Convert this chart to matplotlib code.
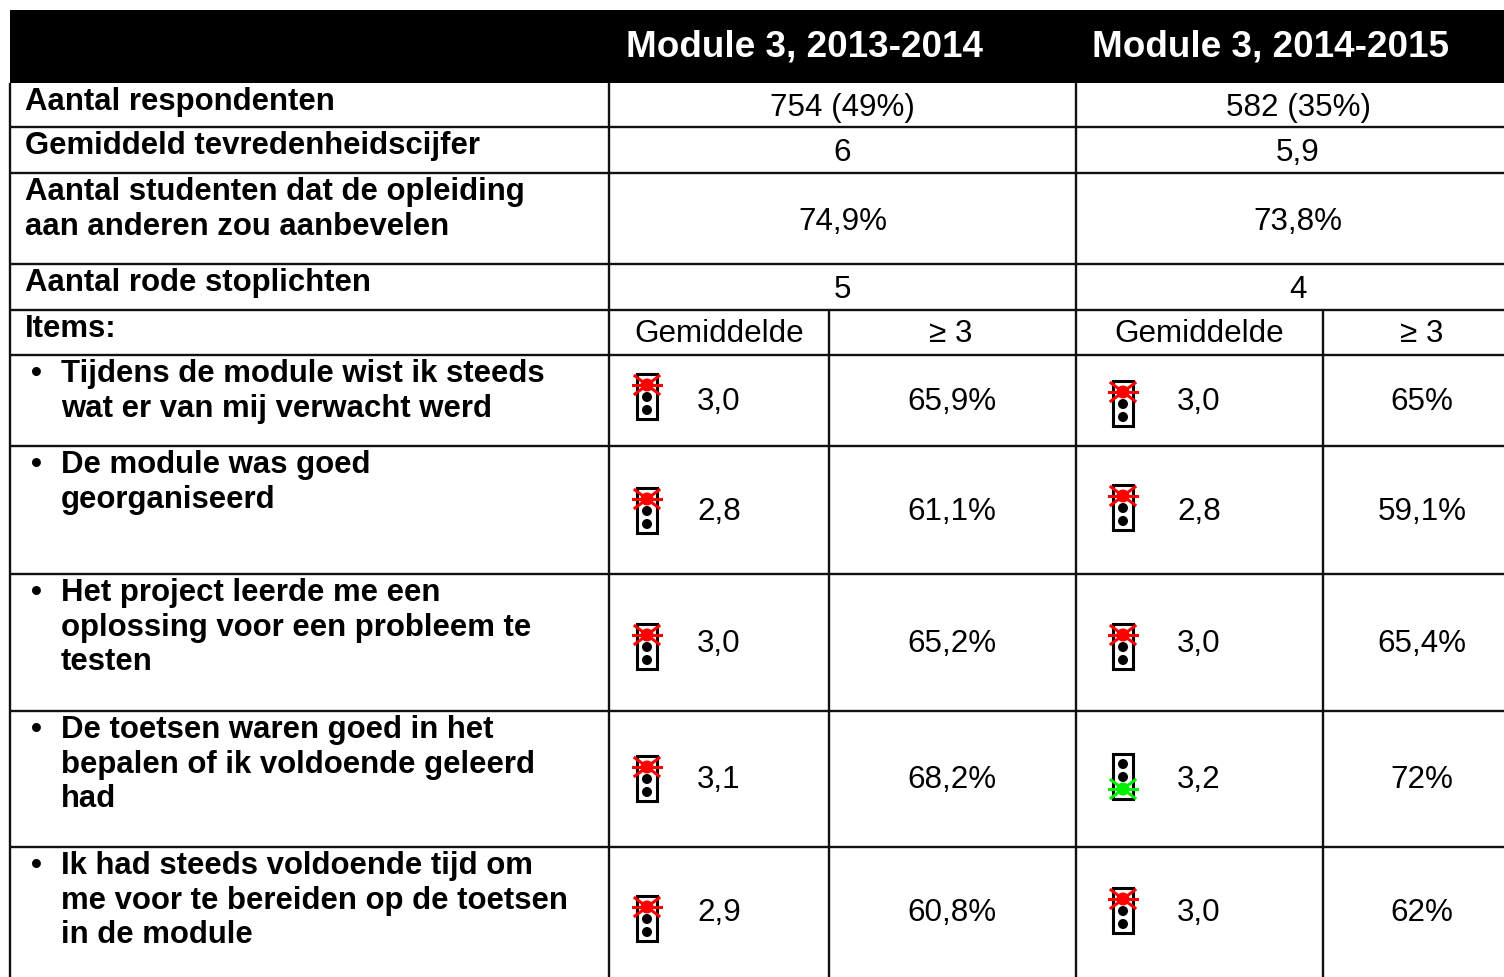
import matplotlib
matplotlib.use('Agg')
from matplotlib import pyplot as plt
from matplotlib.patches import Rectangle, Circle

plt.rcParams['font.family'] = ['Liberation Sans', 'DejaVu Sans']

# table content
headers = ['Module 3, 2013-2014', 'Module 3, 2014-2015']
top_labels = ['Aantal respondenten', 'Gemiddeld tevredenheidscijfer',
              'Aantal studenten dat de opleiding\naan anderen zou aanbevelen',
              'Aantal rode stoplichten']
top_2014 = ['754 (49%)', '6', '74,9%', '5']
top_2015 = ['582 (35%)', '5,9', '73,8%', '4']
sub_headers = ['Gemiddelde', '≥ 3', 'Gemiddelde', '≥ 3']
items = ['Tijdens de module wist ik steeds\nwat er van mij verwacht werd',
         'De module was goed\ngeorganiseerd',
         'Het project leerde me een\noplossing voor een probleem te\ntesten',
         'De toetsen waren goed in het\nbepalen of ik voldoende geleerd\nhad',
         'Ik had steeds voldoende tijd om\nme voor te bereiden op de toetsen\nin de module']
mean_2014 = ['3,0', '2,8', '3,0', '3,1', '2,9']
pct_2014 = ['65,9%', '61,1%', '65,2%', '68,2%', '60,8%']
light_2014 = ['red', 'red', 'red', 'red', 'red']
mean_2015 = ['3,0', '2,8', '3,0', '3,2', '3,0']
pct_2015 = ['65%', '59,1%', '65,4%', '72%', '62%']
light_2015 = ['red', 'red', 'red', 'green', 'red']

# layout in pixels
W, H = 1504, 978
row_y = [84, 128, 174, 265, 311, 356, 447, 575, 712, 848, 978]
col_x = [10, 609, 829, 1076, 1323, 1504]
light_top_2014 = [375, 489, 625, 757, 897]
light_top_2015 = [382, 486, 625, 755, 889]
BODY = 22.6
LABEL = 22.4
HEAD = 26.6

fig = plt.figure(figsize=(W / 100, H / 100), dpi=100)
ax = fig.add_axes([0, 0, 1, 1])
ax.set_xlim(0, W)
ax.set_ylim(H, 0)
ax.axis('off')


def hline(y, x0=col_x[0], x1=W):
    ax.plot([x0, x1], [y, y], color='#111111', lw=1.7, solid_capstyle='butt')


def vline(x, y0, y1=H):
    ax.plot([x, x], [y0, y1], color='#111111', lw=1.7, solid_capstyle='butt')


def body(x, y, s):
    ax.text(x, y, s, fontsize=BODY, ha='center', va='center', color='black')


def label(x, y, s):
    ax.text(x, y, s, fontsize=LABEL, fontweight='bold', ha='left', va='top',
            color='black', linespacing=1.2)


def light(x, top, colour):
    # stoplight: box 22 wide, 46 high, with an X over the lit lamp
    ax.add_patch(Rectangle((x - 10, top), 20, 45, fc='white', ec='black', lw=2.2, zorder=3))
    for cy in (top + 10, top + 23, top + 36):
        ax.add_patch(Circle((x, cy), 5, fc='black', ec='none', zorder=4))
    cy = top + 11 if colour == 'red' else top + 35
    c = '#ff0000' if colour == 'red' else '#00ee00'
    ax.add_patch(Circle((x, cy), 6.5, fc=c, ec='none', zorder=5))
    ax.plot([x - 12, x + 12], [cy - 9, cy + 9], color=c, lw=2.2, zorder=5)
    ax.plot([x - 12, x + 12], [cy + 9, cy - 9], color=c, lw=2.2, zorder=5)
    ax.plot([x - 14, x + 14], [cy, cy], color=c, lw=2.2, zorder=5)


# header band
ax.add_patch(Rectangle((col_x[0], 11), W - col_x[0], row_y[0] - 11, fc='black', ec='none'))
ax.text(804, 47, headers[0], fontsize=HEAD, fontweight='bold', color='white', ha='center', va='center')
ax.text(1271, 47, headers[1], fontsize=HEAD, fontweight='bold', color='white', ha='center', va='center')

# grid
for y in row_y[1:-1]:
    hline(y)
vline(col_x[0], row_y[0])
vline(col_x[1], row_y[0])
vline(col_x[3], row_y[0])
vline(col_x[2], row_y[4])
vline(col_x[4], row_y[4])

# top rows
mid_a = (col_x[1] + col_x[3]) / 2 + 0
mid_b = (col_x[3] + W) / 2 + 8
for i in range(4):
    label(25, row_y[i] + 3, top_labels[i])
    yc = (row_y[i] + row_y[i + 1]) / 2 + 2
    body(mid_a, yc, top_2014[i])
    body(mid_b - 8 + 8, yc, top_2015[i])

# sub header row
label(25, row_y[4] + 3, 'Items:')
yc = (row_y[4] + row_y[5]) / 2 + 1
for x, s in zip([719, 951, 1199, 1422], sub_headers):
    body(x, yc, s)

# item rows
for i in range(5):
    y0, y1 = row_y[5 + i], row_y[6 + i]
    ax.text(31, y0 + 3, '•', fontsize=LABEL, fontweight='bold', ha='left', va='top')
    label(61, y0 + 3, items[i])
    yc = (y0 + y1) / 2
    if i == 1:
        yc = 512
    body(719, yc, mean_2014[i])
    body(952, yc, pct_2014[i])
    body(1199, yc, mean_2015[i])
    body(1422, yc, pct_2015[i])
    light(647, light_top_2014[i], light_2014[i])
    light(1123, light_top_2015[i], light_2015[i])

fig.savefig('out.png', dpi=100, facecolor='white')
